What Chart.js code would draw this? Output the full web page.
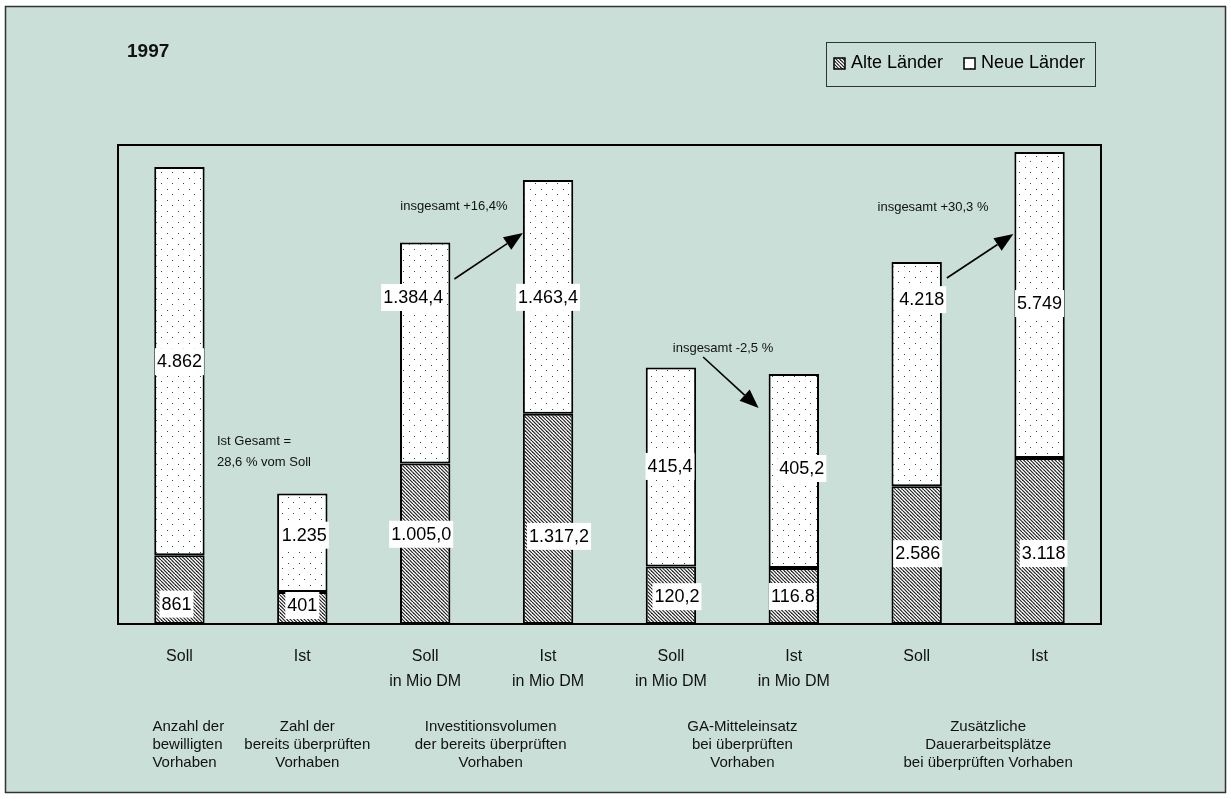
<!DOCTYPE html>
<html>
<head>
<meta charset="utf-8">
<title>GA-Förderung 1997</title>
<script src="https://cdn.jsdelivr.net/npm/chart.js@4.4.1/dist/chart.umd.min.js"></script>
<style>
  html, body { margin: 0; padding: 0; background: #fff; }
  #wrap { width: 1231px; height: 799px; }
</style>
</head>
<body>
<div id="wrap"><canvas id="chart" width="1231" height="799"></canvas></div>
<script>
// bars, left to right
var categories = [['Soll'], ['Ist'], ['Soll', 'in Mio DM'], ['Ist', 'in Mio DM'],
                  ['Soll', 'in Mio DM'], ['Ist', 'in Mio DM'], ['Soll'], ['Ist']];
var groupOfBar = [0, 0, 1, 1, 2, 2, 3, 3];
var alteLaender = [861, 401, 1005.0, 1317.2, 120.2, 116.8, 2586, 3118];
var neueLaender = [4862, 1235, 1384.4, 1463.4, 415.4, 405.2, 4218, 5749];
var alteText = ['861', '401', '1.005,0', '1.317,2', '120,2', '116.8', '2.586', '3.118'];
var neueText = ['4.862', '1.235', '1.384,4', '1.463,4', '415,4', '405,2', '4.218', '5.749'];
// each pair of bars has its own unit, so its own value axis
var groupMax = [6000, 3000, 1000, 9000];

var descriptions = [
    { bars: [0], dx: -27, align: 'left', lines: ['Anzahl der', 'bewilligten', 'Vorhaben'] },
    { bars: [1], dx: 5, align: 'center', lines: ['Zahl der', 'bereits überprüften', 'Vorhaben'] },
    { bars: [2, 3], dx: 4, align: 'center', lines: ['Investitionsvolumen', 'der bereits überprüften', 'Vorhaben'] },
    { bars: [4, 5], dx: 10, align: 'center', lines: ['GA-Mitteleinsatz', 'bei überprüften', 'Vorhaben'] },
    { bars: [6, 7], dx: 10, align: 'center', lines: ['Zusätzliche', 'Dauerarbeitsplätze', 'bei überprüften Vorhaben'] }
];

// label nudges from the middle of each segment, in px
var alteShift = [[-3, 14], [0, -3], [-4, -10], [11, 17], [6, 1], [-1, 0], [1, -2], [4, 12]];
var neueShift = [[0, 0], [2, -8], [-12, -56], [0, 0], [-1, -1], [8, -3], [5, -75], [0, -2]];

var FONT = "'Liberation Sans', Arial, sans-serif";
var BG = '#c9dfd7';

function makeHatch() {
    var c = document.createElement('canvas');
    c.width = 7; c.height = 7;
    var g = c.getContext('2d');
    g.fillStyle = '#fff';
    g.fillRect(0, 0, 7, 7);
    g.strokeStyle = '#222';
    g.lineWidth = 1.2;
    [-7, -3.5, 0, 3.5, 7].forEach(function (o) {
        g.beginPath();
        g.moveTo(o, 0);
        g.lineTo(o + 7, 7);
        g.stroke();
    });
    return g.createPattern(c, 'repeat');
}

function makeDots() {
    var c = document.createElement('canvas');
    c.width = 11; c.height = 11;
    var g = c.getContext('2d');
    g.fillStyle = '#fff';
    g.fillRect(0, 0, 11, 11);
    g.fillStyle = '#444';
    g.fillRect(2, 2, 1, 1);
    g.fillRect(7, 7, 1, 1);
    return g.createPattern(c, 'repeat');
}

var hatch = makeHatch();
var dots = makeDots();

function buildDatasets() {
    var sets = [];
    for (var g = 0; g < groupMax.length; g++) {
        sets.push({
            label: 'Alte Länder',
            kind: 'alte',
            data: alteLaender.map(function (v, i) { return groupOfBar[i] === g ? v : null; }),
            yAxisID: 'y' + g,
            stack: 'laender',
            backgroundColor: hatch
        });
        sets.push({
            label: 'Neue Länder',
            kind: 'neue',
            data: neueLaender.map(function (v, i) { return groupOfBar[i] === g ? v : null; }),
            yAxisID: 'y' + g,
            stack: 'laender',
            backgroundColor: dots
        });
    }
    return sets;
}

function buildScales() {
    var scales = {
        x: {
            stacked: true,
            grid: { display: false, drawTicks: false },
            border: { display: false },
            ticks: {
                color: '#111',
                font: { family: FONT, size: 16, lineHeight: '25px' },
                padding: 20,
                autoSkip: false,
                maxRotation: 0
            },
            afterFit: function (scale) { scale.height = 175; }
        }
    };
    groupMax.forEach(function (m, g) {
        scales['y' + g] = { display: false, stacked: true, min: 0, max: m };
    });
    return scales;
}

function arrow(ctx, x0, y0, x1, y1) {
    var a = Math.atan2(y1 - y0, x1 - x0);
    var len = 19, half = 7.5;
    var bx = x1 - Math.cos(a) * len, by = y1 - Math.sin(a) * len;
    ctx.strokeStyle = '#000';
    ctx.lineWidth = 1.6;
    ctx.beginPath();
    ctx.moveTo(x0, y0);
    ctx.lineTo(bx, by);
    ctx.stroke();
    ctx.fillStyle = '#000';
    ctx.beginPath();
    ctx.moveTo(x1, y1);
    ctx.lineTo(bx + Math.sin(a) * half, by - Math.cos(a) * half);
    ctx.lineTo(bx - Math.sin(a) * half, by + Math.cos(a) * half);
    ctx.closePath();
    ctx.fill();
}

// bar element for a category, taken from the dataset that carries it
function barAt(chart, index, kind) {
    var found = null;
    chart.data.datasets.forEach(function (ds, di) {
        if (ds.kind === kind && ds.data[index] !== null) {
            found = chart.getDatasetMeta(di).data[index];
        }
    });
    return found;
}

var backdrop = {
    id: 'backdrop',
    beforeDraw: function (chart) {
        var ctx = chart.ctx;
        ctx.save();
        ctx.fillStyle = '#fff';
        ctx.fillRect(0, 0, chart.width, chart.height);
        ctx.fillStyle = BG;
        ctx.fillRect(5, 6, 1221, 787);
        ctx.strokeStyle = '#333';
        ctx.lineWidth = 1.5;
        ctx.strokeRect(5.5, 6.5, 1220, 786);
        ctx.restore();
    }
};

var overlay = {
    id: 'overlay',
    afterDatasetsDraw: function (chart) {
        var ctx = chart.ctx;
        var area = chart.chartArea;
        ctx.save();

        // plot frame
        ctx.strokeStyle = '#000';
        ctx.lineWidth = 2;
        ctx.beginPath();
        ctx.moveTo(area.left, area.bottom);
        ctx.lineTo(area.left, area.top);
        ctx.lineTo(area.right, area.top);
        ctx.lineTo(area.right, area.bottom);
        ctx.moveTo(area.left - 1, area.bottom);
        ctx.lineTo(area.right + 1, area.bottom);
        ctx.stroke();

        // value boxes
        ctx.font = '18px ' + FONT;
        ctx.textAlign = 'center';
        ctx.textBaseline = 'middle';
        for (var i = 0; i < categories.length; i++) {
            [['alte', alteText, alteShift], ['neue', neueText, neueShift]].forEach(function (p) {
                var bar = barAt(chart, i, p[0]);
                if (!bar) return;
                var cx = bar.x + p[2][i][0];
                var cy = (bar.y + bar.base) / 2 + p[2][i][1];
                var w = ctx.measureText(p[1][i]).width + 4;
                ctx.fillStyle = '#fff';
                ctx.fillRect(cx - w / 2, cy - 13, w, 27);
                ctx.fillStyle = '#000';
                ctx.fillText(p[1][i], cx, cy + 1);
            });
        }

        // change arrows between Soll and Ist
        var b3 = barAt(chart, 2, 'neue'), b4 = barAt(chart, 3, 'neue');
        var b5 = barAt(chart, 4, 'neue'), b6 = barAt(chart, 5, 'neue');
        var b7 = barAt(chart, 6, 'neue'), b8 = barAt(chart, 7, 'neue');
        arrow(ctx, b3.x + b3.width / 2 + 4, 279, b4.x - b4.width / 2, 233);
        arrow(ctx, b5.x + b5.width / 2 + 7, 357, b6.x - b6.width / 2 - 10, 408);
        arrow(ctx, b7.x + b7.width / 2 + 5, 278, b8.x - b8.width / 2 - 1, 234);

        ctx.fillStyle = '#111';
        ctx.font = '13px ' + FONT;
        ctx.textAlign = 'center';
        ctx.fillText('insgesamt +16,4%', 454, 206);
        ctx.fillText('insgesamt -2,5 %', 723, 348);
        ctx.fillText('insgesamt +30,3 %', 933, 207);
        ctx.textAlign = 'left';
        ctx.fillText('Ist Gesamt =', 217, 441);
        ctx.fillText('28,6 % vom Soll', 217, 462);

        // title
        ctx.font = 'bold 19px ' + FONT;
        ctx.fillText('1997', 127, 52);

        // legend
        ctx.strokeStyle = '#333';
        ctx.lineWidth = 1;
        ctx.strokeRect(826.5, 42.5, 269, 44);
        [[hatch, 834, 'Alte Länder', 851], [dots, 964, 'Neue Länder', 981]].forEach(function (l) {
            ctx.fillStyle = l[0];
            ctx.fillRect(l[1], 58, 11, 11);
            ctx.strokeStyle = '#000';
            ctx.lineWidth = 1.5;
            ctx.strokeRect(l[1], 58, 11, 11);
            ctx.fillStyle = '#000';
            ctx.font = '18px ' + FONT;
            ctx.fillText(l[2], l[3], 63);
        });

        // what each pair of bars measures
        var xs = chart.scales.x;
        ctx.font = '15px ' + FONT;
        ctx.fillStyle = '#111';
        descriptions.forEach(function (d) {
            var x = 0;
            d.bars.forEach(function (b) { x += xs.getPixelForValue(b); });
            x = x / d.bars.length + d.dx;
            ctx.textAlign = d.align;
            d.lines.forEach(function (t, k) {
                ctx.fillText(t, x, 727 + k * 18);
            });
        });

        ctx.restore();
    }
};

new Chart(document.getElementById('chart'), {
    type: 'bar',
    data: {
        labels: categories,
        datasets: buildDatasets()
    },
    options: {
        responsive: false,
        animation: false,
        devicePixelRatio: 1,
        categoryPercentage: 1,
        barPercentage: 0.41,
        borderColor: '#000',
        borderWidth: 2,
        borderSkipped: false,
        layout: { padding: { left: 118, right: 130, top: 145, bottom: 0 } },
        scales: buildScales(),
        plugins: {
            legend: { display: false },
            tooltip: { enabled: false }
        }
    },
    plugins: [backdrop, overlay]
});
</script>
</body>
</html>
